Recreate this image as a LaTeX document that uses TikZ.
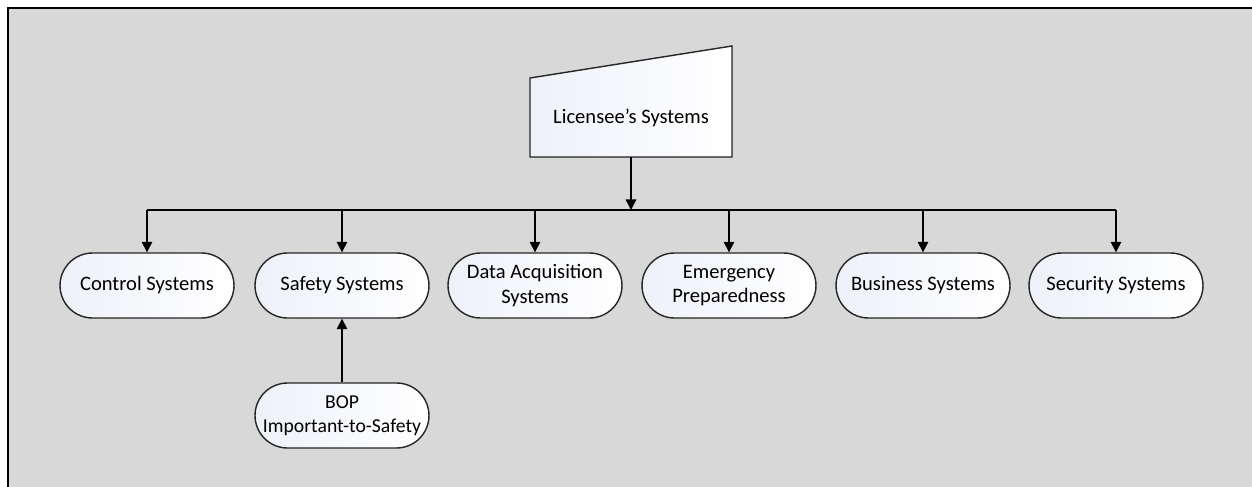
\documentclass[tikz,border=0pt]{standalone}
\usepackage{fontspec}
\setmainfont{Carlito}
\usetikzlibrary{arrows.meta}
\definecolor{panel}{RGB}{216,216,216}
\definecolor{pillshade}{RGB}{238,241,249}

\tikzset{
  pill/.style={draw=black!85, line width=0.8pt, rounded corners=0.65cm,
    minimum width=3.48cm, minimum height=1.3cm, align=center, inner xsep=1pt,
    left color=pillshade, right color=white,
    font=\fontsize{11.7}{14}\selectfont},
  arr/.style={line width=0.9pt, -{Triangle[width=6pt,length=6pt]}},
  wire/.style={line width=0.9pt}
}

\begin{document}
\begin{tikzpicture}[x=0.02cm,y=-0.02cm]
\useasboundingbox (0,0) rectangle (1252,487);
% background panel
\fill[panel] (8,8) rectangle (1252,487);
\draw[line width=1.7pt] (8,487) -- (8,8) -- (1252,8);
% top: manual input shape
\filldraw[draw=black!85, line width=0.8pt, left color=pillshade, right color=white] (530,157) -- (732,157) -- (732,46) -- (530,78) -- cycle;
\node[minimum height=1.56cm, font=\fontsize{11.7}{14}\selectfont] (lic) at (631,118) {Licensee’s Systems};
% second row
\node[pill] (ctrl) at (147,285.5) {Control Systems};
\node[pill] (safe) at (342,285.5) {Safety Systems};
\node[pill] (daq) at (535,285.5) {Data Acquisition\\Systems};
\node[pill] (emer) at (729,285.5) {Emergency\\Preparedness};
\node[pill] (busi) at (923,285.5) {Business Systems};
\node[pill] (sec) at (1116,285.5) {Security Systems};
% feeder
\node[pill, font=\fontsize{11.2}{14}\selectfont] (bop) at (342,415.5) {BOP\\Important-to-Safety};
% connectors
\coordinate (bus) at (631,210);
\draw[arr] (lic.south) -- (bus);
\draw[wire] (ctrl.north |- bus) -- (sec.north |- bus);
\foreach \n in {ctrl,safe,daq,emer,busi,sec}
  \draw[arr] (\n.north |- bus) -- (\n.north);
\draw[arr] (bop.north) -- (safe.south);
\end{tikzpicture}
\end{document}
